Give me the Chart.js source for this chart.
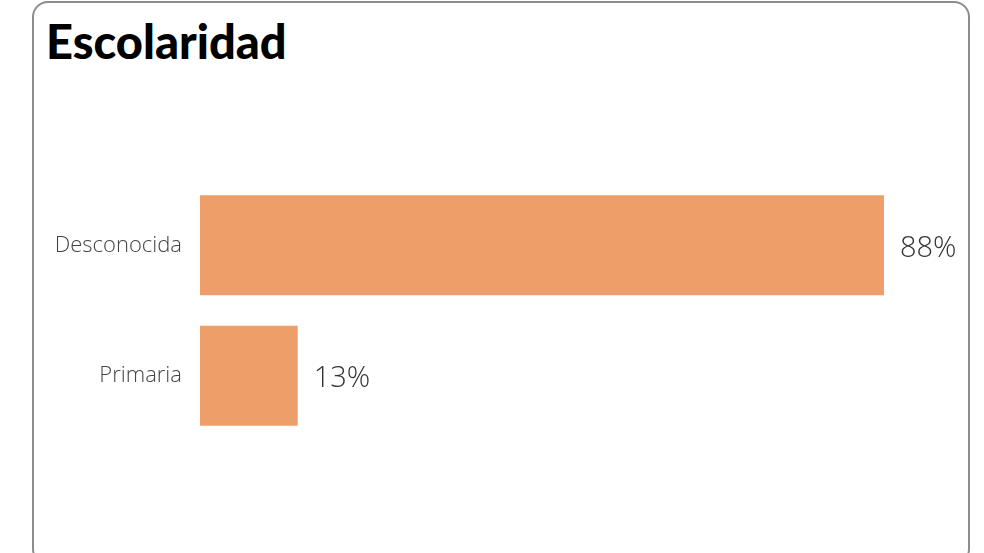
<!DOCTYPE html>
<html>
<head>
<meta charset="utf-8">
<script src="https://cdn.jsdelivr.net/npm/chart.js@4"></script>
<style>
  body { margin: 0; background: #fff; }
  .card {
    position: absolute; left: 32px; top: 1px; width: 934px; height: 560px;
    border: 2px solid #8c8c8c; border-radius: 16px; box-sizing: content-box;
  }
  h1 {
    position: absolute; left: 12px; top: 10px; margin: 0;
    font-family: Lato, sans-serif; font-weight: 900; font-size: 47px; color: #000;
  }
  canvas { position: absolute; left: 0; top: 0; }
</style>
</head>
<body>
<div class="card">
  <h1>Escolaridad</h1>
  <canvas id="myChart" width="934" height="560"></canvas>
</div>
<script>
const categories = ['Desconocida', 'Primaria'];
const values = [87.5, 12.5];
const barColor = '#EE9E68';

// write the percentage at the end of each bar
const valueLabels = {
    id: 'valueLabels',
    afterDatasetsDraw(chart) {
        const ctx = chart.ctx;
        const meta = chart.getDatasetMeta(0);
        ctx.save();
        ctx.font = '300 29px "Open Sans", sans-serif';
        ctx.fillStyle = '#333';
        ctx.textBaseline = 'middle';
        meta.data.forEach((bar, i) => {
            ctx.fillText(Math.round(values[i]) + '%', bar.x + 16, bar.y + 3);
        });
        ctx.restore();
    }
};

const contex = document.getElementById('myChart').getContext('2d');

let chart = new Chart(contex, {
    type: 'bar',
    data: {
        labels: categories,
        datasets: [
            {
                data: values,
                backgroundColor: barColor,
                barPercentage: 0.85,
                categoryPercentage: 0.9
            }
        ]
    },
    options: {
        indexAxis: 'y',
        responsive: false,
        animation: false,
        layout: { padding: { top: 177, bottom: 122, right: 84, left: 0 } },
        plugins: {
            legend: { display: false },
            tooltip: { enabled: false }
        },
        scales: {
            x: { display: false, min: 0, max: 87.5 },
            y: {
                grid: { display: false, drawTicks: false },
                border: { display: false },
                ticks: {
                    padding: 18,
                    color: '#444',
                    font: { family: 'Open Sans', size: 22, weight: 300 }
                },
                afterFit(scale) { scale.width = 166; }
            }
        }
    },
    plugins: [valueLabels]
});
</script>
</body>
</html>
